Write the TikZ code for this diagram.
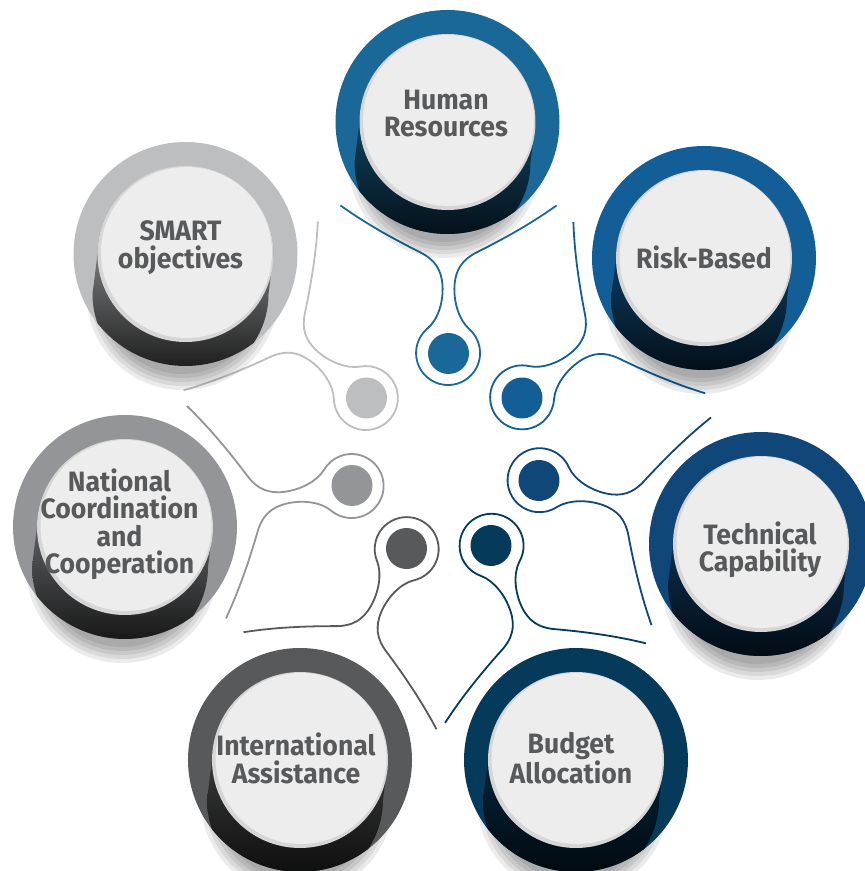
\documentclass[tikz,border=0pt]{standalone}
\usepackage{fontspec}
\setmainfont{Fira Sans}[FakeStretch=0.95]
\definecolor{cHR}{HTML}{1A6897}
\definecolor{cRisk}{HTML}{135E96}
\definecolor{cTech}{HTML}{114778}
\definecolor{cBud}{HTML}{053A5B}
\definecolor{cInt}{HTML}{58595B}
\definecolor{cNat}{HTML}{939598}
\definecolor{cSmart}{HTML}{BCBEC0}
\definecolor{txtc}{HTML}{58595B}
\definecolor{discc}{HTML}{EDEDED}
\definecolor{rimc}{HTML}{D6D6D6}
\tikzset{
  conn/.style={line width=1.8},
  label/.style={text=txtc, font=\fontsize{28}{27.5}\selectfont\bfseries, align=center, text depth=0pt, inner sep=0pt},
}
\newcommand\Disc[2]{%
\begin{scope}[shift={(#1)}]
  \foreach \r in {80,84,...,96} \fill[black,opacity=0.08] (-3,-40) circle (\r);
  \fill[#2] (0,0) circle (112);
  \begin{scope}
    \clip (0,0) circle (112);
    \shade[top color=#2, middle color=#2, bottom color=black!90!#2]
      (-88,0) -- (-93,-40) arc[start angle=180,end angle=360,radius=88] -- (88,0)
      arc[start angle=0,end angle=180,radius=88] -- cycle;
  \end{scope}
  \fill[rimc] (0,0) circle (88);
  \fill[discc] (1,1.5) circle (85.5);
\end{scope}}
\newcommand\Conn[3]{%
\begin{scope}[shift={(#1)}, rotate=#2]
  \draw[conn, #3] (-108,148) .. controls (-80,128) and (-50,112) .. (-28,101)
    .. controls (-14,94) and (-7,84) .. (-6,68)
    .. controls (-5,52) and (-10.3,34) .. (-21,25)
    arc[start angle=130,end angle=410,radius=32]
    .. controls (10.3,34) and (5,52) .. (6,68)
    .. controls (7,84) and (14,94) .. (28,101)
    .. controls (50,112) and (80,128) .. (108,148);
  \fill[#3] (0,0) circle (20.5);
\end{scope}}
\begin{document}
\begin{tikzpicture}[x=1pt,y=1pt]
\useasboundingbox (0,0) rectangle (865,871);
% dot centres
\coordinate (dHR) at (448.5,517.5);
\coordinate (dRisk) at (522,473);
\coordinate (dTech) at (539,390.5);
\coordinate (dBud) at (491,325.5);
\coordinate (dInt) at (406.5,322.5);
\coordinate (dNat) at (352,385.5);
\coordinate (dSmart) at (366.5,473);
% big centres
\coordinate (bHR) at (447.5,749);
\coordinate (bRisk) at (704,613);
\coordinate (bTech) at (761,327);
\coordinate (bBud) at (576,111);
\coordinate (bInt) at (300,111);
\coordinate (bNat) at (125,344);
\coordinate (bSmart) at (185.5,617);
% connectors
\Conn{dHR}{0}{cHR}
\Conn{dRisk}{-52.4}{cRisk}
\Conn{dTech}{-106}{cTech}
\Conn{dBud}{-158.4}{cBud}
\Conn{dInt}{-206.7}{cInt}
\Conn{dNat}{100.4}{cNat}
\Conn{dSmart}{51.5}{cSmart}
% discs
\Disc{bHR}{cHR}
\Disc{bRisk}{cRisk}
\Disc{bTech}{cTech}
\Disc{bBud}{cBud}
\Disc{bInt}{cInt}
\Disc{bNat}{cNat}
\Disc{bSmart}{cSmart}
% labels
\node[label] (tHR) at (446,757.5) {Human\\Resources};
\node[label] (tRisk) at (704,614) {Risk-Based};
\node[label] (tTech) at (760,324.5) {Technical\\Capability};
\node[label] (tBud) at (571,113.5) {Budget\\Allocation};
\node[label] (tInt) at (296,113) {International\\Assistance};
\node[label] (tNat) at (119.5,350) {National\\Coordination\\and\\Cooperation};
\node[label] (tSmart) at (180.5,626.5) {SMART\\objectives};
\end{tikzpicture}
\end{document}
